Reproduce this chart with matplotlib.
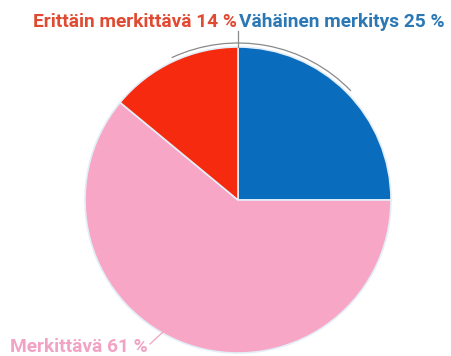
import matplotlib
matplotlib.use("Agg")
import matplotlib.pyplot as plt
from matplotlib.patches import Arc

labels = ["Vähäinen merkitys 25 %", "Merkittävä 61 %", "Erittäin merkittävä 14 %"]
values = [25, 61, 14]
colors = ["#0a6cbc", "#f7a6c6", "#f62a0e"]
text_colors = ["#2b78b5", "#f2a3c3", "#e04a32"]

W, H = 451, 356
fig = plt.figure(figsize=(W / 100, H / 100), dpi=100)
ax = fig.add_axes([0, 0, 1, 1])

cx, cy, r = 238, H - 200, 153
ax.pie(values, colors=colors, startangle=90, counterclock=False,
       center=(cx, cy), radius=r, frame=True,
       wedgeprops=dict(edgecolor="#e4eef8", linewidth=1.2))
ax.set_xlim(0, W)
ax.set_ylim(0, H)
ax.set_aspect("equal")
ax.axis("off")

# leader lines
ax.add_patch(Arc((cx, cy), 2 * 157, 2 * 157, theta1=44, theta2=115,
                 color="#8a8a8a", lw=0.9))
ax.plot([cx, cx], [H - 47, H - 31], color="#8a8a8a", lw=0.9)
ax.plot([150, 163], [H - 344, H - 332], color="#f2a3c3", lw=0.9)

fs = 13.8
ax.text(cx + 1, H - 27, labels[0], color=text_colors[0], fontsize=fs,
        fontweight="bold", family="Roboto", ha="left", va="baseline")
ax.text(cx - 1, H - 27, labels[2], color=text_colors[2], fontsize=fs,
        fontweight="bold", family="Roboto", ha="right", va="baseline")
ax.text(148, H - 352, labels[1], color=text_colors[1], fontsize=fs,
        fontweight="bold", family="Roboto", ha="right", va="baseline")

fig.savefig("out.png", dpi=100)
